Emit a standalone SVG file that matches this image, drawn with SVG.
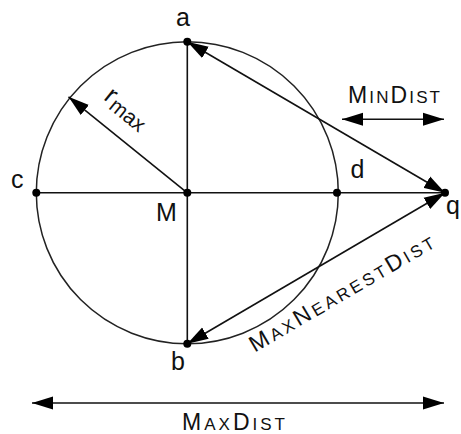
<svg xmlns="http://www.w3.org/2000/svg" width="461" height="434" viewBox="0 0 461 434">
<style>
.ln{stroke:#111;stroke-width:1.6;fill:none}
.circ{stroke:#222;stroke-width:1.5;fill:none}
.dot{fill:#000}
text{font-family:"Liberation Sans",Arial,sans-serif;fill:#111}
.lbl{font-size:25px}
.big{font-size:23px}
.sc{font-size:17px}
</style>
<defs>
<marker id="ah" markerUnits="userSpaceOnUse" markerWidth="22" markerHeight="14" refX="21" refY="6.5" orient="auto-start-reverse" viewBox="0 0 22 13">
<path d="M0,0 L21,6.5 L0,13 z" fill="#000"/>
</marker>
</defs>
<rect width="461" height="434" fill="#fff"/>
<g id="circle"><circle class="circ" cx="187.3" cy="192.8" r="151"/></g>
<g id="connectors">
<line class="ln" x1="187.3" y1="41.8" x2="187.3" y2="343.8"/>
<line class="ln" x1="36.3" y1="192.8" x2="445" y2="192.8"/>
<line class="ln" x1="187.3" y1="192.8" x2="68.5" y2="96.8" marker-end="url(#ah)"/>
<line class="ln" x1="187.3" y1="41.8" x2="445" y2="192.8" marker-start="url(#ah)" marker-end="url(#ah)"/>
<line class="ln" x1="187.3" y1="343.8" x2="445" y2="192.8" marker-start="url(#ah)" marker-end="url(#ah)"/>
<line class="ln" x1="342" y1="119.3" x2="444" y2="119.3" marker-start="url(#ah)" marker-end="url(#ah)"/>
<line class="ln" x1="32" y1="403" x2="444" y2="403" marker-start="url(#ah)" marker-end="url(#ah)"/>
</g>
<g id="a"><circle class="dot" cx="187.3" cy="41.8" r="4"/><text class="lbl" x="176" y="26">a</text></g>
<g id="b"><circle class="dot" cx="187.3" cy="343.8" r="4"/><text class="lbl" x="171" y="370">b</text></g>
<g id="c"><circle class="dot" cx="36.3" cy="192.8" r="4"/><text class="lbl" x="11" y="188">c</text></g>
<g id="d"><circle class="dot" cx="337" cy="192.8" r="4"/><text class="lbl" x="350.5" y="178">d</text></g>
<g id="M"><circle class="dot" cx="187.3" cy="192.8" r="4"/><text class="lbl" x="156" y="221">M</text></g>
<g id="q"><circle class="dot" cx="445" cy="192.8" r="4"/><text class="lbl" x="446" y="214">q</text></g>
<g id="rmax" transform="translate(68.5,96.8) rotate(38.9)"><text x="28" y="-20"><tspan font-size="26">r</tspan><tspan dx="1" dy="4" font-size="21">max</tspan></text></g>
<g id="mindist"><text x="348" y="103" textLength="92" lengthAdjust="spacing"><tspan class="big">M</tspan><tspan class="sc">IN</tspan><tspan class="big">D</tspan><tspan class="sc">IST</tspan></text></g>
<g id="maxdist"><text x="182" y="430" textLength="103" lengthAdjust="spacing"><tspan class="big">M</tspan><tspan class="sc">AX</tspan><tspan class="big">D</tspan><tspan class="sc">IST</tspan></text></g>
<g id="maxnearestdist" transform="translate(445,192.8) rotate(-30.3)"><text x="-245" y="42" textLength="210" lengthAdjust="spacing"><tspan class="big">M</tspan><tspan class="sc">AX</tspan><tspan class="big">N</tspan><tspan class="sc">EAREST</tspan><tspan class="big">D</tspan><tspan class="sc">IST</tspan></text></g>
</svg>
